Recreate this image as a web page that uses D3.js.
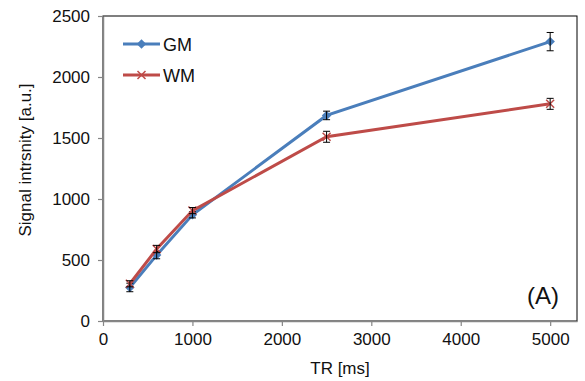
<!DOCTYPE html>
<html>
<head>
<meta charset="utf-8">
<script src="https://cdn.jsdelivr.net/npm/d3@7"></script>
<style>
  body { margin: 0; background: #fff; }
  text { font-family: "Liberation Sans", Arial, sans-serif; fill: #111; }
</style>
</head>
<body>
<svg id="chart" width="585" height="381"></svg>
<script>
const tr = [300, 600, 1000, 2500, 5000];
const gm = [275, 540, 870, 1685, 2290];
const gmErr = [35, 30, 25, 35, 75];
const wm = [305, 590, 905, 1510, 1780];
const wmErr = [25, 30, 25, 45, 45];
const xTicks = [0, 1000, 2000, 3000, 4000, 5000];
const yTicks = [0, 500, 1000, 1500, 2000, 2500];

const svg = d3.select("#chart");
const mLeft = 103, mRight = 577, mTop = 16, mBottom = 321;

const x = d3.scaleLinear().domain([0, 5300]).range([mLeft, mRight]);
const y = d3.scaleLinear().domain([0, 2500]).range([mBottom, mTop]);

// plot area box
svg.append("rect")
  .attr("x", mLeft).attr("y", mTop)
  .attr("width", mRight - mLeft).attr("height", mBottom - mTop)
  .attr("fill", "none").attr("stroke", "#000").attr("stroke-width", 1);

// axes
const xAxis = svg.append("g")
  .attr("transform", "translate(0," + mBottom + ")")
  .call(d3.axisBottom(x).tickValues(xTicks).tickFormat(d3.format("d"))
    .tickSize(5).tickSizeOuter(0).tickPadding(7));
const yAxis = svg.append("g")
  .attr("transform", "translate(" + mLeft + ",0)")
  .call(d3.axisLeft(y).tickValues(yTicks).tickFormat(d3.format("d"))
    .tickSize(5).tickSizeOuter(0).tickPadding(8));

[xAxis, yAxis].forEach(a => {
  a.select(".domain").attr("stroke", "#868686").attr("stroke-width", 1.5);
  a.selectAll(".tick line").attr("stroke", "#868686").attr("stroke-width", 1.2);
  a.selectAll(".tick text")
    .attr("font-size", 17)
    .attr("font-family", "Liberation Sans, Arial, sans-serif")
    .attr("fill", "#111");
});

// axis titles
svg.append("text")
  .attr("x", 340).attr("y", 374)
  .attr("text-anchor", "middle").attr("font-size", 17)
  .text("TR [ms]");
svg.append("text")
  .attr("transform", "translate(31,160) rotate(-90)")
  .attr("text-anchor", "middle").attr("font-size", 17)
  .text("Signal intrsnity [a.u.]");

const series = [
  { name: "GM", vals: gm, err: gmErr, color: "#4A7EBB", marker: "diamond" },
  { name: "WM", vals: wm, err: wmErr, color: "#BE4B48", marker: "x" }
];

const line = d3.line().x(d => x(d[0])).y(d => y(d[1]));

function drawMarker(g, kind, cx, cy, color) {
  if (kind === "diamond") {
    g.append("path")
      .attr("d", d3.symbol(d3.symbolSquare, 45)())
      .attr("transform", "translate(" + cx + "," + cy + ") rotate(45)")
      .attr("fill", color);
  } else {
    const s = 4;
    g.append("path")
      .attr("d", "M" + (cx - s) + "," + (cy - s) + "L" + (cx + s) + "," + (cy + s) +
        "M" + (cx - s) + "," + (cy + s) + "L" + (cx + s) + "," + (cy - s))
      .attr("stroke", color).attr("stroke-width", 1.5).attr("fill", "none");
  }
}

series.forEach(s => {
  const pts = tr.map((t, i) => [t, s.vals[i]]);
  svg.append("path")
    .datum(pts)
    .attr("d", line)
    .attr("fill", "none")
    .attr("stroke", s.color)
    .attr("stroke-width", 3);
  const g = svg.append("g");
  pts.forEach(p => drawMarker(g, s.marker, x(p[0]), y(p[1]), s.color));
  // error bars
  const eb = svg.append("g").attr("stroke", "#000").attr("stroke-width", 1);
  pts.forEach((p, i) => {
    const cx = x(p[0]);
    const y0 = y(p[1] - s.err[i]), y1 = y(p[1] + s.err[i]);
    eb.append("line").attr("x1", cx).attr("x2", cx).attr("y1", y0).attr("y2", y1);
    eb.append("line").attr("x1", cx - 3.5).attr("x2", cx + 3.5).attr("y1", y0).attr("y2", y0);
    eb.append("line").attr("x1", cx - 3.5).attr("x2", cx + 3.5).attr("y1", y1).attr("y2", y1);
  });
});

// legend
const legend = svg.append("g");
series.forEach((s, i) => {
  const ly = 44 + i * 31;
  legend.append("line")
    .attr("x1", 123).attr("x2", 160).attr("y1", ly).attr("y2", ly)
    .attr("stroke", s.color).attr("stroke-width", 3);
  drawMarker(legend, s.marker, 141.5, ly, s.color);
  legend.append("text")
    .attr("x", 163).attr("y", ly + 6.5)
    .attr("font-size", 18)
    .text(s.name);
});

svg.append("text")
  .attr("x", 543).attr("y", 304)
  .attr("text-anchor", "middle")
  .attr("font-size", 24)
  .text("(A)");
</script>
</body>
</html>
